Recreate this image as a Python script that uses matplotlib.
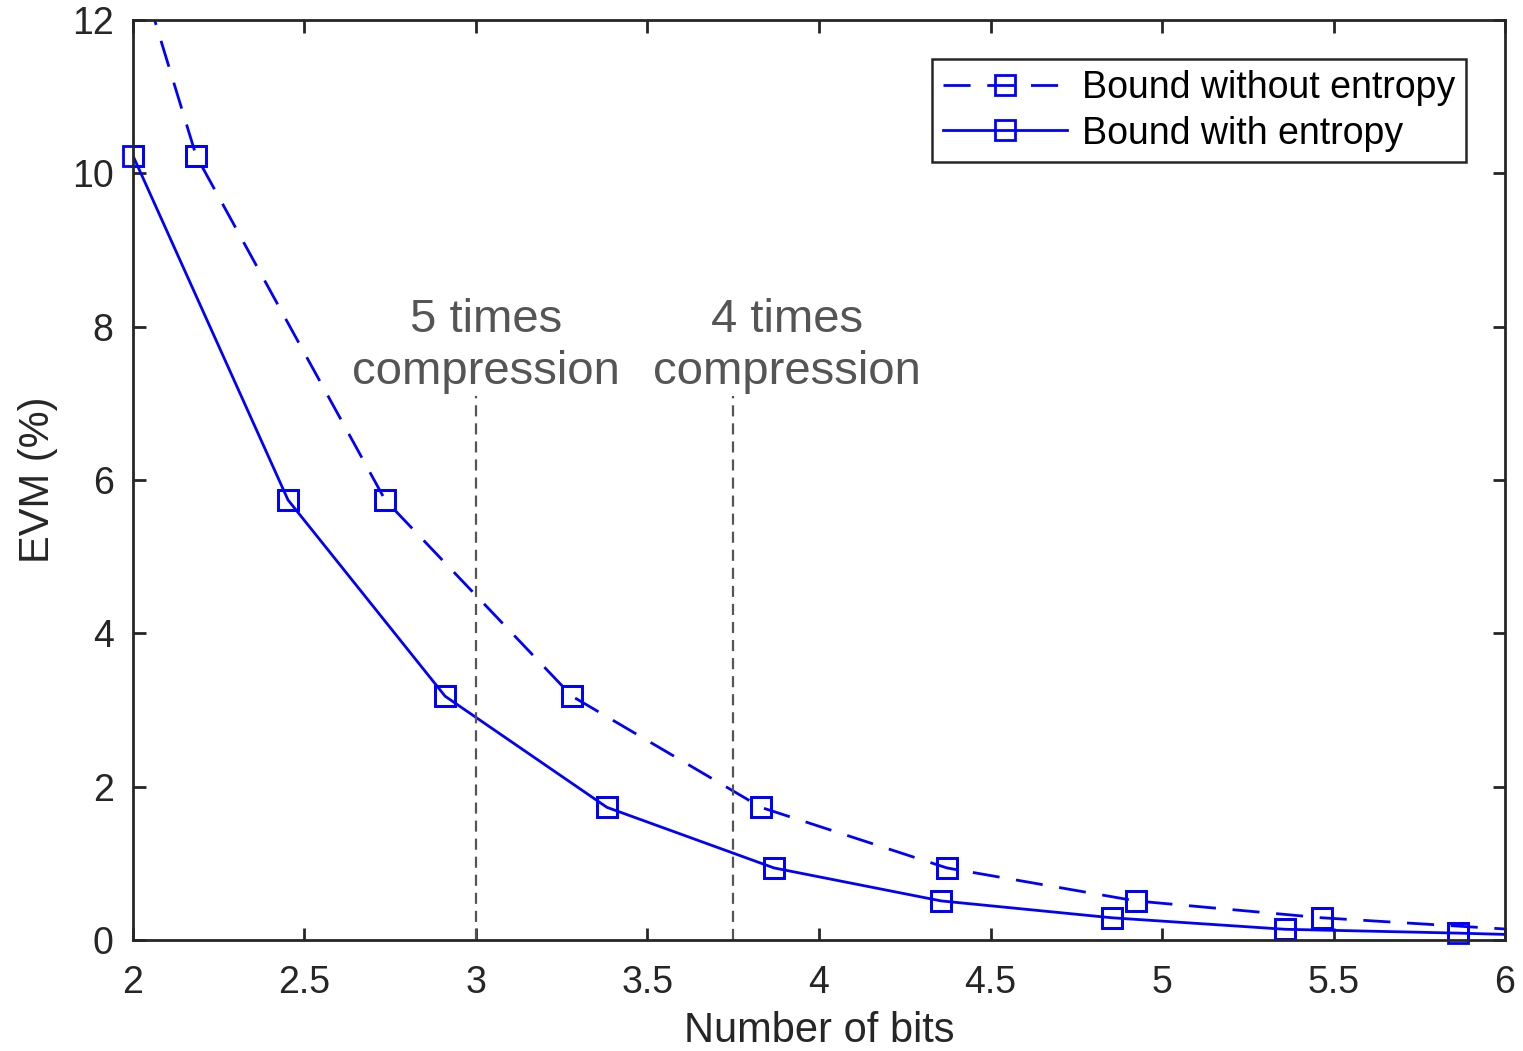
import matplotlib
matplotlib.use('Agg')
import matplotlib.pyplot as plt

plt.rcParams['font.family'] = ['Liberation Sans', 'DejaVu Sans']
plt.rcParams['lines.scale_dashes'] = False

# bits / EVM values
bits_no_entropy = [1.64, 2.184, 2.735, 3.28, 3.831, 4.373, 4.924, 5.466, 6.05]
evm_no_entropy = [18.2, 10.23, 5.74, 3.18, 1.73, 0.94, 0.51, 0.29, 0.13]
bits_entropy = [2.0, 2.452, 2.91, 3.382, 3.869, 4.356, 4.854, 5.359, 5.863, 6.35]
evm_entropy = [10.23, 5.74, 3.18, 1.73, 0.94, 0.51, 0.29, 0.14, 0.09, 0.03]

marker_lines = [3.0, 3.75]
marker_top = 7.1
notes = ['5 times\ncompression', '4 times\ncompression']
note_x = [3.03, 3.907]
note_y = 7.75

fig = plt.figure(figsize=(15.23, 10.51), dpi=100)
ax = fig.add_axes([0.0873, 0.1056, 0.9009, 0.8754])

blue = '#0000ff'
style = dict(color=blue, lw=2.0, marker='s', ms=14, mfc='none', mew=2.0)
ax.plot(bits_no_entropy, evm_no_entropy, dashes=(19.5, 12),
        label='Bound without entropy', **style)
ax.plot(bits_entropy, evm_entropy, label='Bound with entropy', **style)

# markers sitting on the axes edge are drawn whole, as in the original
for xs, ys in [(bits_no_entropy, evm_no_entropy), (bits_entropy, evm_entropy)]:
    inside = [(a, b) for a, b in zip(xs, ys) if 2 <= a <= 6 and b <= 12]
    ax.plot([p[0] for p in inside], [p[1] for p in inside], ls='none',
            marker='s', ms=14, mfc='none', mew=2.0, color=blue, clip_on=False)

for xv in marker_lines:
    ax.plot([xv, xv], [0, marker_top], color='#555555', lw=1.6,
            dashes=(8, 5))
for t, xv in zip(notes, note_x):
    ax.text(xv, note_y, t, ha='center', va='center', fontsize=34,
            color='#555555', linespacing=1.25)

ax.set_xlim(2, 6)
ax.set_ylim(0, 12)
ax.set_xticks([2, 2.5, 3, 3.5, 4, 4.5, 5, 5.5, 6])
ax.set_xticklabels(['2', '2.5', '3', '3.5', '4', '4.5', '5', '5.5', '6'])
ax.set_yticks([0, 2, 4, 6, 8, 10, 12])
ax.tick_params(direction='in', length=9, width=2.0, labelsize=27,
               top=True, right=True, colors='#262626', pad=14)
ax.tick_params(axis='x', pad=18)
for s in ax.spines.values():
    s.set_linewidth(2.0)
    s.set_color('#262626')
ax.set_xlabel('Number of bits', fontsize=30, color='#262626', labelpad=7)
ax.set_ylabel('EVM (%)', fontsize=30, color='#262626', labelpad=10)

leg = ax.legend(loc='upper right', fontsize=27, handlelength=3.3,
                handletextpad=0.4, fancybox=False, edgecolor='#262626',
                framealpha=1, borderaxespad=1.05, borderpad=0.29,
                labelspacing=0.25)
leg.get_frame().set_linewidth(1.8)

fig.savefig('out.png', dpi=100)
